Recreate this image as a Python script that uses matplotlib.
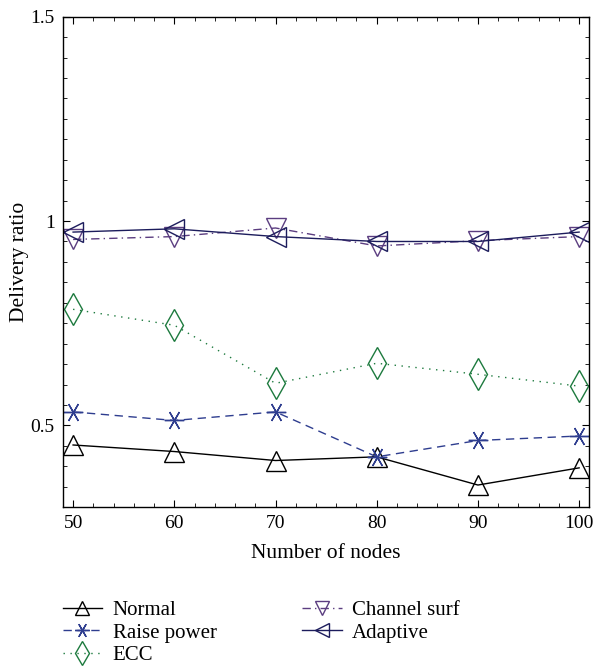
import numpy as np
import matplotlib
matplotlib.use('Agg')
import matplotlib.pyplot as plt
from matplotlib.ticker import MultipleLocator

plt.rcParams['font.family'] = ['Liberation Serif', 'DejaVu Serif']
plt.rcParams['font.size'] = 14

nodes = [50, 60, 70, 80, 90, 100]
normal = [0.452, 0.436, 0.414, 0.423, 0.354, 0.396]
raise_power = [0.533, 0.512, 0.533, 0.423, 0.463, 0.474]
ecc = [0.784, 0.745, 0.603, 0.652, 0.625, 0.596]
channel_surf = [0.955, 0.962, 0.983, 0.939, 0.952, 0.962]
adaptive = [0.973, 0.981, 0.962, 0.950, 0.950, 0.973]

fig = plt.figure(figsize=(5.94, 6.69), dpi=100)
ax = fig.add_axes([0.106, 0.242, 0.886, 0.733])

ms = 14
kw = dict(linewidth=1, markerfacecolor='none', markeredgewidth=1)
ax.plot(nodes, normal, color='black', linestyle='-', marker='^', markersize=ms,
        label='Normal', **kw)
ax.plot(nodes, raise_power, color='#2e3d8f', linestyle=(0, (6, 4)), marker=(6, 2, 90),
        markersize=ms, label='Raise power', **kw)
ax.plot(nodes, ecc, color='#1d7a3e', linestyle=(0, (1, 4)), marker='d', markersize=ms + 2,
        label='ECC', **kw)
ax.plot(nodes, channel_surf, color='#5b3d80', linestyle=(0, (6, 3, 1, 3)), marker='v',
        markersize=ms, label='Channel surf', **kw)
ax.plot(nodes, adaptive, color='#1c1c5c', linestyle='-', marker='<', markersize=ms,
        label='Adaptive', **kw)

ax.set_xlim(49, 101)
ax.set_ylim(0.3, 1.5)
ax.set_xticks(nodes)
ax.set_yticks([0.5, 1, 1.5])
ax.set_yticklabels(['0.5', '1', '1.5'])
ax.xaxis.set_minor_locator(MultipleLocator(2))
ax.yaxis.set_minor_locator(MultipleLocator(0.05))
ax.tick_params(which='both', direction='in', top=True, right=True)
ax.tick_params(which='major', length=5, pad=6)
ax.tick_params(which='minor', length=3)
for s in ax.spines.values():
    s.set_linewidth(1)

ax.set_xlabel('Number of nodes', fontsize=15.5, labelpad=8)
ax.set_ylabel('Delivery ratio', fontsize=15.5, labelpad=1)

handles, labels = ax.get_legend_handles_labels()
fig.legend(handles, labels, loc='upper left', bbox_to_anchor=(0.088, 0.118), ncol=2,
           frameon=False, fontsize=15, markerscale=0.75, handlelength=1.9,
           columnspacing=4.1, labelspacing=0.15, handletextpad=0.5, borderpad=0)

fig.savefig('out.png', dpi=100)
